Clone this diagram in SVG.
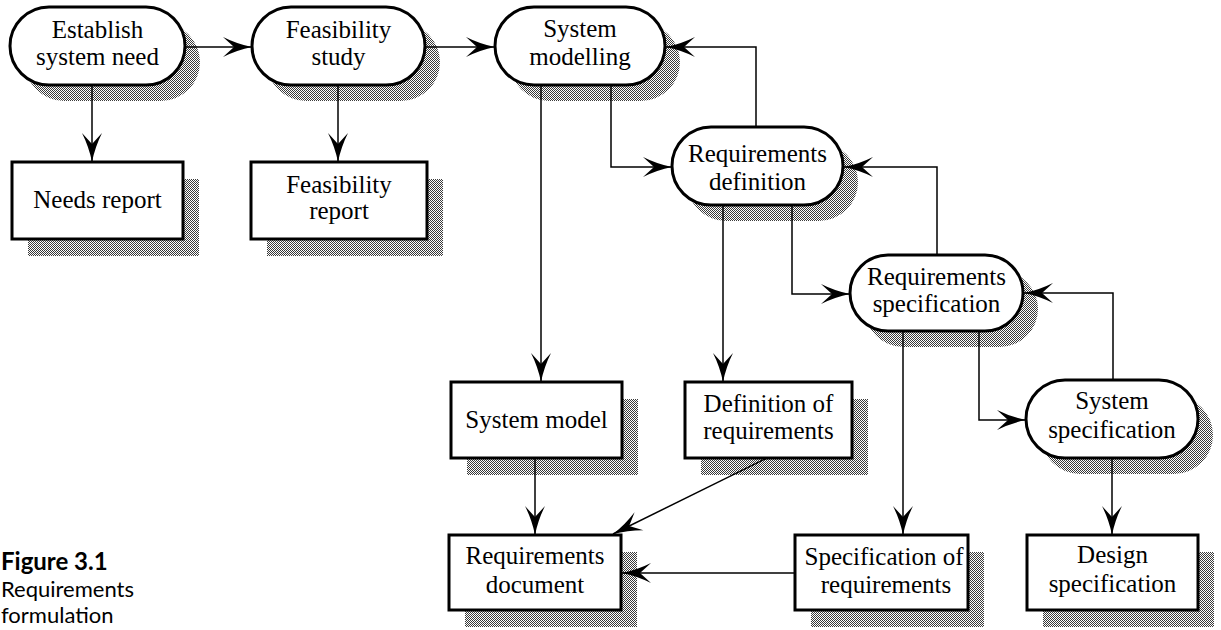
<svg xmlns="http://www.w3.org/2000/svg" width="1221" height="630" viewBox="0 0 1221 630">
  <style>
    .node { fill: #fff; stroke: #000; stroke-width: 3; }
    .shadow { fill: url(#halftone); stroke: none; }
    .label { font-family: "Liberation Serif", "Times New Roman", serif; font-size: 25px; fill: #000; text-anchor: middle; }
    .conn { fill: none; stroke: #000; stroke-width: 1.5; marker-end: url(#arrow); }
    .caption { font-family: "Lato", "Open Sans", sans-serif; fill: #000; }
  </style>
  <defs>
    <!-- fine halftone used for the drop shadows -->
    <pattern id="halftone" width="2" height="2" patternUnits="userSpaceOnUse">
      <rect width="2" height="2" fill="#fff"/>
      <rect width="1" height="1" fill="#3a3a3a"/>
      <rect x="1" y="1" width="1" height="1" fill="#3a3a3a"/>
    </pattern>
    <!-- swept-back barbed arrowhead -->
    <marker id="arrow" markerUnits="userSpaceOnUse" orient="auto" viewBox="-32 -12 34 24" markerWidth="34" markerHeight="24" refX="0" refY="0" overflow="visible">
      <path d="M0,0 Q-15,-3 -29,-10 L-18,0 L-29,10 Q-15,3 0,0 Z" fill="#000"/>
    </marker>
  </defs>

  <rect width="1221" height="630" fill="#fff"/>

  <!-- process steps (rounded) -->
  <g id="establish-need">
    <rect class="shadow" x="25" y="23" width="175" height="78" rx="39"/>
    <rect class="node" x="10" y="7" width="175" height="78" rx="39"/>
    <text class="label" x="97.5" y="38">Establish</text>
    <text class="label" x="97.5" y="65">system need</text>
  </g>
  <g id="feasibility-study">
    <rect class="shadow" x="267" y="23" width="173" height="78" rx="39"/>
    <rect class="node" x="252" y="7" width="173" height="78" rx="39"/>
    <text class="label" x="338.5" y="38">Feasibility</text>
    <text class="label" x="338.5" y="65">study</text>
  </g>
  <g id="system-modelling">
    <rect class="shadow" x="510" y="23" width="170" height="78" rx="39"/>
    <rect class="node" x="495" y="7" width="170" height="78" rx="39"/>
    <text class="label" x="580" y="37">System</text>
    <text class="label" x="580" y="65">modelling</text>
  </g>
  <g id="requirements-definition">
    <rect class="shadow" x="687" y="143" width="171" height="78" rx="39"/>
    <rect class="node" x="672" y="127" width="171" height="78" rx="39"/>
    <text class="label" x="757.5" y="162">Requirements</text>
    <text class="label" x="757.5" y="190">definition</text>
  </g>
  <g id="requirements-specification">
    <rect class="shadow" x="865" y="271" width="173" height="76" rx="38"/>
    <rect class="node" x="850" y="255" width="173" height="76" rx="38"/>
    <text class="label" x="936.5" y="285">Requirements</text>
    <text class="label" x="936.5" y="312">specification</text>
  </g>
  <g id="system-specification">
    <rect class="shadow" x="1041" y="396" width="172" height="78" rx="39"/>
    <rect class="node" x="1026" y="380" width="172" height="78" rx="39"/>
    <text class="label" x="1112" y="409">System</text>
    <text class="label" x="1112" y="438">specification</text>
  </g>

  <!-- documents (square) -->
  <g id="needs-report">
    <rect class="shadow" x="28" y="179" width="171" height="77"/>
    <rect class="node" x="12" y="162" width="171" height="77"/>
    <text class="label" x="97.5" y="208">Needs report</text>
  </g>
  <g id="feasibility-report">
    <rect class="shadow" x="267" y="179" width="176" height="77"/>
    <rect class="node" x="251" y="162" width="176" height="77"/>
    <text class="label" x="339" y="193">Feasibility</text>
    <text class="label" x="339" y="219">report</text>
  </g>
  <g id="system-model">
    <rect class="shadow" x="467" y="399" width="171" height="76"/>
    <rect class="node" x="451" y="382" width="171" height="76"/>
    <text class="label" x="536.5" y="428">System model</text>
  </g>
  <g id="definition-of-requirements">
    <rect class="shadow" x="701" y="399" width="167" height="76"/>
    <rect class="node" x="685" y="382" width="167" height="76"/>
    <text class="label" x="768.5" y="412">Definition of</text>
    <text class="label" x="768.5" y="439">requirements</text>
  </g>
  <g id="requirements-document">
    <rect class="shadow" x="465" y="552" width="172" height="75"/>
    <rect class="node" x="449" y="535" width="172" height="75"/>
    <text class="label" x="535" y="564">Requirements</text>
    <text class="label" x="535" y="593">document</text>
  </g>
  <g id="specification-of-requirements">
    <rect class="shadow" x="811" y="552" width="173" height="75"/>
    <rect class="node" x="795" y="535" width="173" height="75"/>
    <text class="label" x="884" y="565">Specification of</text>
    <text class="label" x="886" y="593">requirements</text>
  </g>
  <g id="design-specification">
    <rect class="shadow" x="1043" y="552" width="171" height="75"/>
    <rect class="node" x="1027" y="535" width="171" height="75"/>
    <text class="label" x="1112.5" y="563">Design</text>
    <text class="label" x="1112.5" y="592">specification</text>
  </g>

  <!-- connectors -->
  <g id="connectors">
    <path class="conn" d="M185,47 H252"/>
    <path class="conn" d="M425,47 H495"/>
    <path class="conn" d="M92,85 V162"/>
    <path class="conn" d="M338,85 V162"/>
    <path class="conn" d="M541,85 V382"/>
    <path class="conn" d="M611,85 V167 H672"/>
    <path class="conn" d="M756,127 V47 H666"/>
    <path class="conn" d="M723,205 V382"/>
    <path class="conn" d="M792,205 V294 H850"/>
    <path class="conn" d="M937,255 V167 H844"/>
    <path class="conn" d="M903,331 V535"/>
    <path class="conn" d="M979,331 V420 H1026"/>
    <path class="conn" d="M1113,380 V293 H1024"/>
    <path class="conn" d="M1112,458 V535"/>
    <path class="conn" d="M535,458 V535"/>
    <path class="conn" d="M767,458 L613,534"/>
    <path class="conn" d="M795,573 H622"/>
  </g>

  <!-- caption -->
  <g id="caption">
    <text class="caption" x="1" y="570" font-size="24" font-weight="bold">Figure 3.1</text>
    <text class="caption" x="1" y="597" font-size="22">Requirements</text>
    <text class="caption" x="1" y="623" font-size="22">formulation</text>
  </g>
</svg>
